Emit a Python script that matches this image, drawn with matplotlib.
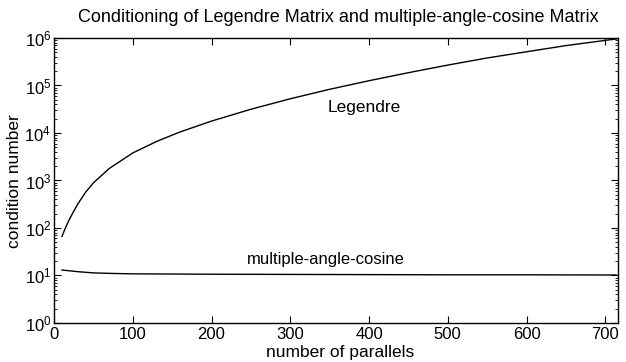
import matplotlib
matplotlib.use("Agg")
import matplotlib.pyplot as plt
from matplotlib.ticker import LogLocator, NullFormatter

plt.rcParams["font.family"] = ["Liberation Sans", "DejaVu Sans"]
plt.rcParams["mathtext.fontset"] = "custom"
plt.rcParams["mathtext.rm"] = "Liberation Sans"
plt.rcParams["mathtext.it"] = "Liberation Sans"

# number of parallels vs condition number
n_leg = [10, 15, 20, 30, 40, 50, 70, 100, 130, 160, 200, 250, 300, 350,
         400, 450, 500, 550, 600, 650, 700, 714]
cond_leg = [66, 105, 158, 316, 562, 891, 1780, 3800, 6600, 10500, 17800,
            31600, 52500, 83200, 126000, 186000, 269000, 380000, 513000,
            692000, 891000, 955000]

n_cos = [10, 20, 30, 50, 75, 100, 150, 200, 300, 400, 500, 600, 714]
cond_cos = [13, 12.5, 12, 11.3, 11, 10.8, 10.7, 10.6, 10.5, 10.4,
            10.3, 10.3, 10.2]

xticks = [0, 100, 200, 300, 400, 500, 600, 700]

fig = plt.figure(figsize=(6.26, 3.62), dpi=100)
ax = fig.add_axes([0.0863, 0.108, 0.9007, 0.787])

ax.semilogy(n_leg, cond_leg, color="black", linewidth=1.0)
ax.semilogy(n_cos, cond_cos, color="black", linewidth=1.0)

ax.set_xlim(0, 716)
ax.set_ylim(1, 1e6)
ax.set_xticks(xticks)
ax.yaxis.set_major_locator(LogLocator(base=10, numticks=10))
ax.yaxis.set_minor_locator(LogLocator(base=10, subs=range(2, 10), numticks=20))
ax.yaxis.set_minor_formatter(NullFormatter())

ax.tick_params(which="both", direction="in", top=True, right=True,
               labelsize=12, colors="black")
ax.tick_params(which="major", length=5, width=0.8)
ax.tick_params(axis="x", pad=3)
ax.tick_params(axis="y", pad=2)
ax.tick_params(which="minor", length=2.5, width=0.6)
for s in ax.spines.values():
    s.set_linewidth(1.0)

ax.text(394, 3.4e4, "Legendre", ha="center", va="center", fontsize=12.5)
ax.text(345, 22, "multiple-angle-cosine", ha="center", va="center", fontsize=12)

fig.text(338 / 626, 1 - 18 / 362,
         "Conditioning of Legendre Matrix and multiple-angle-cosine Matrix",
         ha="center", va="center", fontsize=13)
fig.text(340 / 626, 1 - 352 / 362, "number of parallels",
         ha="center", va="center", fontsize=12.5)
fig.text(15 / 626, 1 - 181 / 362, "condition number", rotation=90,
         ha="center", va="center", fontsize=12.5)

fig.savefig("out.png", dpi=100)
